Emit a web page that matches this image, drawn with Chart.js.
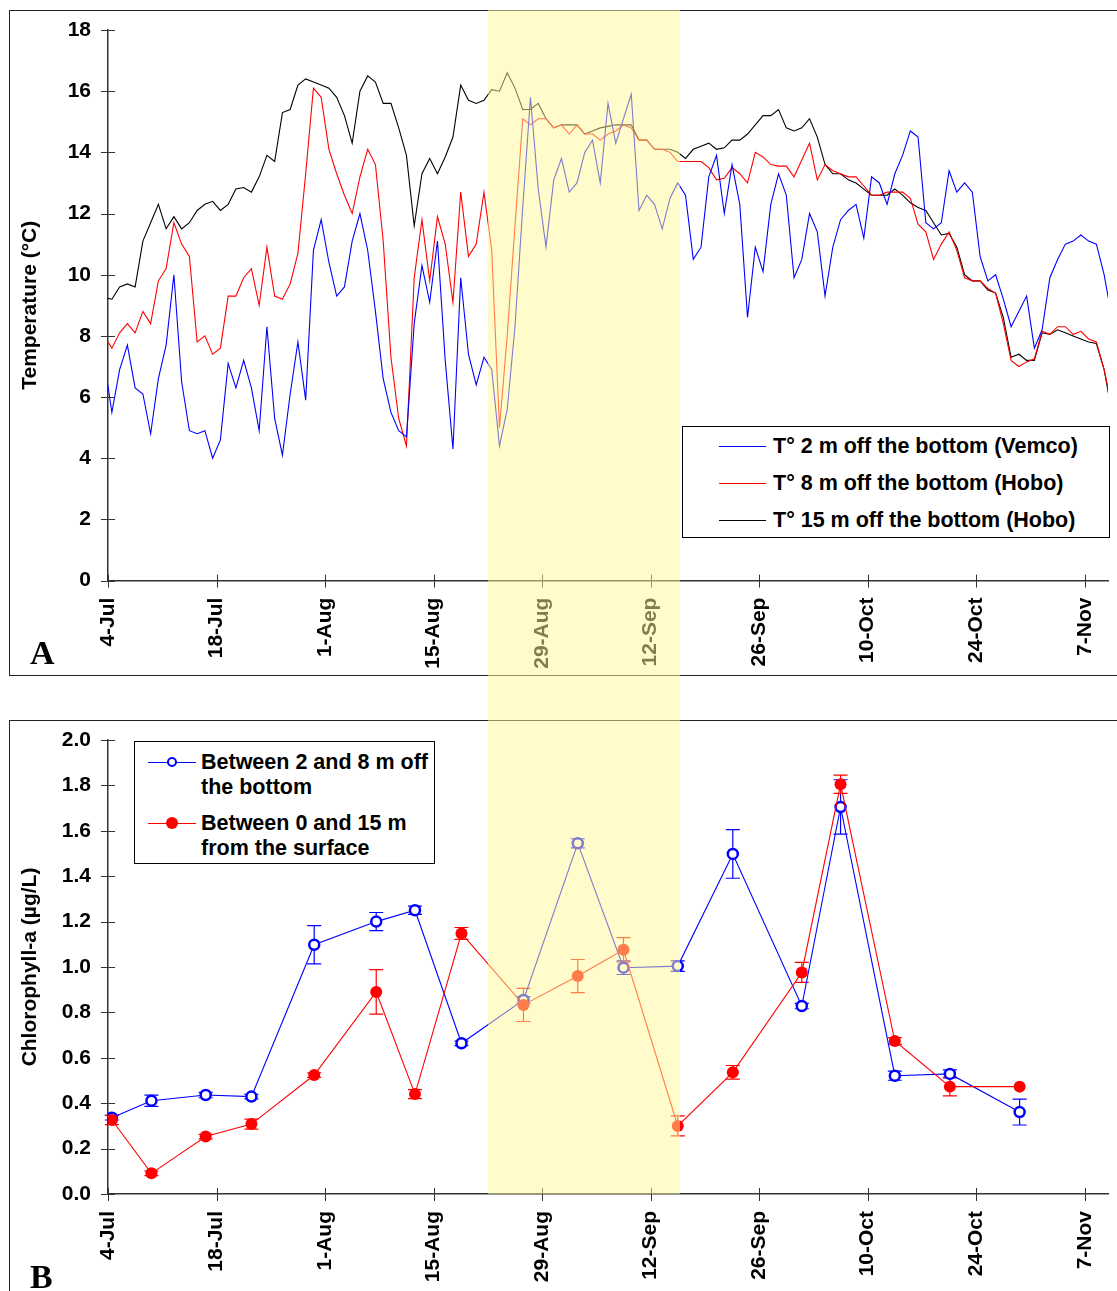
<!DOCTYPE html>
<html>
<head>
<meta charset="utf-8">
<script src="https://cdn.jsdelivr.net/npm/chart.js@4.4.1/dist/chart.umd.min.js"></script>
<style>
  body { margin: 0; background: #fff; }
  #page { position: relative; width: 1117px; height: 1291px; overflow: hidden; font-family: "Liberation Sans", Arial, sans-serif; }
  .panel { position: absolute; border: 1.5px solid #222; box-sizing: border-box; }
  #panelA { left: 9px; top: 10px; width: 1120px; height: 666px; }
  #panelB { left: 9px; top: 720px; width: 1120px; height: 600px; }
  canvas { position: absolute; }
  #chartA { left: 11px; top: 11px; }
  #chartB { left: 11px; top: 721px; }
  .tag { position: absolute; font-family: "Liberation Serif", "Times New Roman", serif; font-weight: bold; font-size: 34px; line-height: 34px; }
  .legend { position: absolute; border: 1px solid #000; background: #fff; box-sizing: border-box; }
  .legend .txt { position: absolute; font-weight: bold; font-size: 21.5px; color: #000; white-space: pre; }
  .legend .ln { position: absolute; height: 0; }
  .legend .mk { position: absolute; border-radius: 50%; box-sizing: border-box; }
  #band { position: absolute; background: rgba(255, 248, 150, 0.5); pointer-events: none; }
</style>
</head>
<body>
<div id="page">
  <div class="panel" id="panelA"></div>
  <div class="panel" id="panelB"></div>
  <canvas id="chartA" width="1106" height="663"></canvas>
  <canvas id="chartB" width="1106" height="570"></canvas>
  <div class="tag" style="left:30px; top:636px;">A</div>
  <div class="tag" style="left:30px; top:1260px;">B</div>
  <div class="legend" id="legendA" style="left:682px; top:426px; width:428px; height:112px;"></div>
  <div class="legend" id="legendB" style="left:134px; top:741px; width:301px; height:123px;"></div>
  <div id="band"></div>
</div>
<script>
// x axis is in days since 4-Jul
const tickLabels = ['4-Jul', '18-Jul', '1-Aug', '15-Aug', '29-Aug', '12-Sep', '26-Sep', '10-Oct', '24-Oct', '7-Nov'];
const tickDays = [0, 14, 28, 42, 56, 70, 84, 98, 112, 126];
const lastDay = 129;
const bandDays = [49.0, 73.8]; // shaded period

// daily means, first value is 3-Jul (plotted at noon)
const firstDay = -0.5;
const vemco2m = [7.2,
  5.5, 6.9, 7.7, 6.3, 6.1, 4.8, 6.6, 7.7, 10.0, 6.5,
  4.9, 4.8, 4.9, 4.0, 4.6, 7.1, 6.3, 7.2, 6.3, 4.9,
  8.3, 5.3, 4.1, 6.1, 7.8, 5.9, 10.8, 11.8, 10.4, 9.3,
  9.6, 11.1, 12.0, 10.8, 8.8, 6.6, 5.5, 4.9, 4.7, 8.4,
  10.3, 9.1, 11.1, 7.2, 4.3, 9.9, 7.4, 6.4, 7.3, 6.9,
  4.4, 5.6, 8.3, 12.2, 15.8, 12.8, 10.9, 13.1, 13.8, 12.7,
  13.0, 14.0, 14.4, 13.0, 15.6, 14.3, 15.1, 15.9, 12.1, 12.6,
  12.3, 11.5, 12.5, 13.0, 12.6, 10.5, 10.9, 13.2, 13.9, 12.0,
  13.6, 12.3, 8.6, 10.9, 10.1, 12.3, 13.3, 12.6, 9.9, 10.5,
  12.0, 11.4, 9.3, 10.9, 11.8, 12.1, 12.3, 11.2, 13.2, 13.0,
  12.3, 13.3, 13.9, 14.7, 14.5, 11.7, 11.5, 11.7, 13.4, 12.7,
  13.0, 12.7, 10.6, 9.8, 10.0, 9.2, 8.3, 8.8, 9.3, 7.6,
  8.2, 9.9, 10.5, 11.0, 11.1, 11.3, 11.1, 11.0, 10.0, 8.6];
const hobo8m = [8.0,
  7.6, 8.1, 8.4, 8.1, 8.8, 8.4, 9.8, 10.2, 11.7, 11.0,
  10.6, 7.8, 8.0, 7.4, 7.6, 9.3, 9.3, 9.9, 10.2, 9.0,
  10.9, 9.3, 9.2, 9.7, 10.7, 13.3, 16.1, 15.8, 14.1, 13.3,
  12.6, 12.0, 13.2, 14.1, 13.6, 11.1, 7.3, 5.3, 4.4, 9.9,
  11.8, 9.8, 11.9, 11.0, 9.1, 12.7, 10.6, 11.0, 12.7, 10.8,
  5.0, 8.0, 11.6, 15.1, 14.9, 15.1, 15.1, 14.8, 14.9, 14.6,
  14.9, 14.6, 14.6, 14.4, 14.6, 14.7, 14.9, 14.8, 14.4, 14.4,
  14.1, 14.1, 14.0, 13.7, 13.7, 13.7, 13.7, 13.5, 13.1, 13.15,
  13.5, 13.3, 13.0, 14.0, 13.85, 13.6, 13.55, 13.55, 13.2, 13.75,
  14.3, 13.1, 13.6, 13.4, 13.3, 13.2, 13.2, 12.9, 12.6, 12.6,
  12.7, 12.7, 12.7, 12.5, 11.65, 11.4, 10.5, 11.0, 11.4, 10.8,
  9.9, 9.8, 9.8, 9.55, 9.4, 8.4, 7.2, 7.0, 7.15, 7.25,
  8.15, 8.05, 8.3, 8.3, 8.05, 8.15, 7.9, 7.8, 6.9, 5.7];
const hobo15m = [9.25,
  9.2, 9.6, 9.7, 9.6, 11.1, 11.7, 12.3, 11.5, 11.9, 11.5,
  11.7, 12.1, 12.3, 12.4, 12.1, 12.3, 12.8, 12.85, 12.7, 13.2,
  13.9, 13.7, 15.3, 15.4, 16.2, 16.4, 16.3, 16.2, 16.1, 15.8,
  15.2, 14.3, 16.0, 16.5, 16.3, 15.6, 15.6, 14.8, 13.9, 11.6,
  13.3, 13.8, 13.3, 13.85, 14.5, 16.2, 15.7, 15.6, 15.7, 16.05,
  16.0, 16.6, 16.1, 15.4, 15.4, 15.6, 15.1, 14.8, 14.9, 14.9,
  14.9, 14.6, 14.7, 14.8, 14.85, 14.9, 14.9, 14.9, 14.4, 14.4,
  14.1, 14.1, 14.1, 14.0, 13.8, 14.1, 14.2, 14.3, 14.1, 14.15,
  14.4, 14.4, 14.6, 14.9, 15.2, 15.2, 15.4, 14.8, 14.7, 14.8,
  15.1, 14.5, 13.6, 13.3, 13.3, 13.1, 13.0, 12.8, 12.6, 12.6,
  12.6, 12.8, 12.6, 12.35, 12.2, 12.1, 11.7, 11.3, 11.35, 10.9,
  10.0, 9.8, 9.8, 9.5, 9.4, 8.6, 7.3, 7.4, 7.2, 7.2,
  8.1, 8.05, 8.2, 8.1, 8.0, 7.9, 7.8, 7.75, 6.9, 5.5];

// chlorophyll sampling days and values (mean +/- error)
const chlDays = [0.5, 5.6, 12.6, 18.5, 26.6, 34.6, 39.6, 45.6, 53.6, 60.6, 66.5, 73.5, 80.6, 89.5, 94.5, 101.5, 108.6, 117.6];
const chlBottom = [0.336, 0.411, 0.436, 0.429, 1.098, 1.20, 1.25, 0.664, 0.855, 1.545, 0.997, 1.004, 1.498, 0.828, 1.705, 0.521, 0.529, 0.361];
const chlBottomErr = [0.01, 0.025, 0.012, 0.01, 0.084, 0.04, 0.018, 0.01, 0.015, 0.02, 0.03, 0.023, 0.107, 0.012, 0.12, 0.02, 0.018, 0.057];
const chlSurface = [0.326, 0.091, 0.253, 0.308, 0.524, 0.89, 0.44, 1.148, 0.833, 0.96, 1.076, 0.30, 0.536, 0.976, 1.805, 0.674, 0.473, 0.473];
const chlSurfaceErr = [0.02, 0.01, 0.01, 0.022, 0.01, 0.098, 0.02, 0.026, 0.073, 0.073, 0.053, 0.044, 0.03, 0.044, 0.04, 0.015, 0.041, 0];

Chart.defaults.font.family = '"Liberation Sans", Arial, sans-serif';
Chart.defaults.font.weight = 'bold';
Chart.defaults.font.size = 21;
Chart.defaults.color = '#000';

function daily(values) {
  return values.map((v, i) => ({ x: firstDay + i, y: v }));
}
function sampled(values) {
  return values.map((v, i) => ({ x: chlDays[i], y: v }));
}

// ticks crossing the axis line on both sides
const crossTicks = {
  id: 'crossTicks',
  afterDraw(chart) {
    const { ctx, scales: { x, y } } = chart;
    ctx.save();
    ctx.strokeStyle = '#333';
    ctx.lineWidth = 1;
    ctx.beginPath();
    x.ticks.forEach(t => {
      const px = Math.round(x.getPixelForValue(t.value)) + 0.5;
      ctx.moveTo(px, y.bottom - 6);
      ctx.lineTo(px, y.bottom + 7);
    });
    y.ticks.forEach(t => {
      const py = Math.round(y.getPixelForValue(t.value)) + 0.5;
      ctx.moveTo(x.left - 7, py);
      ctx.lineTo(x.left + 7, py);
    });
    ctx.stroke();
    ctx.restore();
  }
};

const errorBars = {
  id: 'errorBars',
  beforeDatasetsDraw(chart) {
    const { ctx, scales: { x, y } } = chart;
    chart.data.datasets.forEach(ds => {
      if (!ds.errors) return;
      ctx.save();
      ctx.strokeStyle = ds.borderColor;
      ctx.lineWidth = 1.2;
      ds.data.forEach((p, i) => {
        const e = ds.errors[i];
        if (!e) return;
        const px = x.getPixelForValue(p.x);
        const top = y.getPixelForValue(p.y + e);
        const bot = y.getPixelForValue(p.y - e);
        ctx.beginPath();
        ctx.moveTo(px, top); ctx.lineTo(px, bot);
        ctx.moveTo(px - 7, top); ctx.lineTo(px + 7, top);
        ctx.moveTo(px - 7, bot); ctx.lineTo(px + 7, bot);
        ctx.stroke();
      });
      ctx.restore();
    });
  }
};

function makeOptions(yMax, yStep, yTitle, yFormat, xHeight) {
  return {
    responsive: false,
    animation: false,
    devicePixelRatio: 1,
    layout: { padding: { top: 19, right: 9, left: 0, bottom: 0 } },
    plugins: { legend: { display: false }, tooltip: { enabled: false } },
    scales: {
      x: {
        type: 'linear',
        min: 0,
        max: lastDay,
        afterBuildTicks: scale => { scale.ticks = tickDays.map(v => ({ value: v })); },
        afterFit: scale => {
          scale.height = xHeight;
          scale.paddingLeft = 0;
          scale.paddingRight = 0;
        },
        ticks: {
          autoSkip: false,
          minRotation: 90,
          maxRotation: 90,
          padding: 17,
          callback: v => tickLabels[tickDays.indexOf(v)]
        },
        grid: { display: true, drawOnChartArea: false, drawTicks: false },
        border: { display: true, color: '#333', width: 1.5 }
      },
      y: {
        min: 0,
        max: yMax,
        afterFit: scale => {
          scale.width = 97;
          scale.paddingTop = 0;
          scale.paddingBottom = 0;
        },
        ticks: { stepSize: yStep, padding: 17, callback: yFormat },
        title: { display: true, text: yTitle, font: { size: 21, weight: 'bold' }, padding: { top: 7, bottom: 0 } },
        grid: { display: true, drawOnChartArea: false, drawTicks: false },
        border: { display: true, color: '#333', width: 1.5 }
      }
    }
  };
}

const chartA = new Chart(document.getElementById('chartA'), {
  type: 'line',
  data: {
    datasets: [
      { label: 'T° 2 m off the bottom (Vemco)', data: daily(vemco2m), borderColor: '#0000ff', borderWidth: 1.1, pointRadius: 0, tension: 0 },
      { label: 'T° 8 m off the bottom (Hobo)', data: daily(hobo8m), borderColor: '#ff0000', borderWidth: 1.1, pointRadius: 0, tension: 0 },
      { label: 'T° 15 m off the bottom (Hobo)', data: daily(hobo15m), borderColor: '#000000', borderWidth: 1.1, pointRadius: 0, tension: 0 }
    ]
  },
  options: makeOptions(18, 2, 'Temperature (°C)', v => v, 93.4),
  plugins: [crossTicks]
});

const chartB = new Chart(document.getElementById('chartB'), {
  type: 'line',
  data: {
    datasets: [
      {
        label: 'Between 2 and 8 m off\nthe bottom', data: sampled(chlBottom), errors: chlBottomErr,
        borderColor: '#0000ff', borderWidth: 1.1, tension: 0, order: 1,
        pointRadius: 5, pointBorderWidth: 2.5, pointBackgroundColor: '#ffffff', pointBorderColor: '#0000ff'
      },
      {
        label: 'Between 0 and 15 m\nfrom the surface', data: sampled(chlSurface), errors: chlSurfaceErr,
        borderColor: '#ff0000', borderWidth: 1.1, tension: 0, order: 0,
        pointRadius: 6, pointBorderWidth: 0, pointBackgroundColor: '#ff0000', pointBorderColor: '#ff0000'
      }
    ]
  },
  options: makeOptions(2.0, 0.2, 'Chlorophyll-a (µg/L)', v => Number(v).toFixed(1), 97),
  plugins: [errorBars, crossTicks]
});

// html legends built from the chart datasets
function buildLegend(boxId, chart, rowTop, rowGap, lineX, lineW, textX, lineHeight) {
  const box = document.getElementById(boxId);
  chart.data.datasets.forEach((ds, i) => {
    const cy = rowTop + i * rowGap;
    const ln = document.createElement('div');
    ln.className = 'ln';
    ln.style.cssText = `left:${lineX}px; top:${cy - 0.5}px; width:${lineW}px; border-top:1px solid ${ds.borderColor};`;
    box.appendChild(ln);
    if (ds.pointRadius) {
      const r = ds.pointRadius;
      const mk = document.createElement('div');
      mk.className = 'mk';
      mk.style.cssText = `left:${lineX + lineW / 2 - r}px; top:${cy - r}px; width:${2 * r}px; height:${2 * r}px;` +
        `background:${ds.pointBackgroundColor}; border:${ds.pointBorderWidth}px solid ${ds.pointBorderColor};`;
      box.appendChild(mk);
    }
    const txt = document.createElement('div');
    txt.className = 'txt';
    txt.style.cssText = `left:${textX}px; top:${cy - lineHeight / 2}px; line-height:${lineHeight}px;`;
    txt.textContent = ds.label;
    box.appendChild(txt);
  });
}
buildLegend('legendA', chartA, 19, 37, 36, 47, 90, 24);
buildLegend('legendB', chartB, 20, 61, 13, 48, 66, 25);

// shaded period across both panels, placed with the chart scale
function placeBand() {
  const cb = document.getElementById('chartB');
  const xs = chartB.scales.x, ys = chartB.scales.y;
  const left = cb.offsetLeft + xs.getPixelForValue(bandDays[0]);
  const right = cb.offsetLeft + xs.getPixelForValue(bandDays[1]);
  const top = document.getElementById('panelA').offsetTop;
  const bottom = cb.offsetTop + ys.getPixelForValue(0);
  const band = document.getElementById('band');
  band.style.left = left + 'px';
  band.style.width = (right - left) + 'px';
  band.style.top = top + 'px';
  band.style.height = (bottom - top) + 'px';
}
placeBand();
</script>
</body>
</html>
